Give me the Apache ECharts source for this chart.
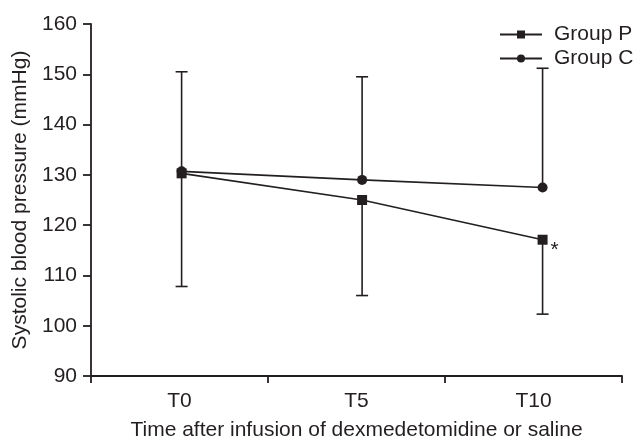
<!DOCTYPE html>
<html>
<head>
<meta charset="utf-8">
<script src="https://cdn.jsdelivr.net/npm/echarts@6/dist/echarts.min.js"></script>
<style>html,body{margin:0;padding:0;background:#fff}#c{width:633px;height:440px}</style>
</head>
<body>
<div id="c"></div>
<script>
// ---- data ----
const categories = ['T0', 'T5', 'T10'];
const times = [0, 5, 10];
const groupP = [130.3, 125.0, 117.1];
const groupC = [130.7, 129.0, 127.5];
const groupPLower = [107.8, 106.0, 102.3];
const groupCUpper = [150.5, 149.5, 151.2];
const yTicks = [90, 100, 110, 120, 130, 140, 150, 160];

const ink = '#231f20';
const font = 'Liberation Sans, Arial, Helvetica, sans-serif';
const fs = 21;

function pairs(vals) { return times.map((t, i) => [t, vals[i]]); }
function errData(means, bounds) { return times.map((t, i) => [t, means[i], bounds[i]]); }

function errRender(params, api) {
  const p0 = api.coord([api.value(0), api.value(1)]);
  const p1 = api.coord([api.value(0), api.value(2)]);
  const half = 6;
  const st = { stroke: ink, lineWidth: 1.6 };
  return {
    type: 'group',
    children: [
      { type: 'line', shape: { x1: p0[0], y1: p0[1], x2: p1[0], y2: p1[1] }, style: st },
      { type: 'line', shape: { x1: p1[0] - half, y1: p1[1], x2: p1[0] + half, y2: p1[1] }, style: st }
    ]
  };
}

const pData = pairs(groupP).map((d, i) => i === times.length - 1 ? {
  value: d,
  label: { show: true, formatter: '*', position: 'right', distance: 6, offset: [-3, 10], fontSize: fs, color: ink, fontFamily: font }
} : d);

const chart = echarts.init(document.getElementById('c'), null, { renderer: 'canvas' });
chart.setOption({
  animation: false,
  backgroundColor: '#fff',
  textStyle: { fontFamily: font, color: ink },
  grid: { left: 91, right: 11, top: 24, bottom: 64, containLabel: false, outerBoundsMode: 'none' },
  legend: {
    orient: 'vertical',
    left: 499,
    top: 24,
    itemWidth: 42,
    itemHeight: 10,
    itemGap: 3,
    padding: 0,
    textStyle: { fontSize: fs, color: ink, fontFamily: font, padding: [0, 0, 0, 7] },
    data: ['Group P', 'Group C']
  },
  xAxis: [
    {
      type: 'category',
      data: categories,
      boundaryGap: true,
      name: 'Time after infusion of dexmedetomidine or saline',
      nameLocation: 'middle',
      nameGap: 44,
      nameTextStyle: { fontSize: fs, color: ink, fontFamily: font },
      axisLine: { lineStyle: { color: ink, width: 1.8 } },
      axisTick: { show: true, length: 7, lineStyle: { color: ink, width: 1.8 } },
      axisLabel: { fontSize: fs, color: ink, margin: 15, fontFamily: font },
      splitLine: { show: false }
    },
    {
      type: 'value',
      show: false,
      min: -2.51,
      max: 12.2,
      splitLine: { show: false }
    }
  ],
  yAxis: {
    type: 'value',
    min: yTicks[0],
    max: yTicks[yTicks.length - 1],
    interval: 10,
    name: 'Systolic blood pressure (mmHg)',
    nameLocation: 'middle',
    nameGap: 56,
    nameTextStyle: { fontSize: fs, color: ink, fontFamily: font },
    axisLine: { show: true, onZero: false, lineStyle: { color: ink, width: 1.8 } },
    axisTick: { show: true, length: 8, lineStyle: { color: ink, width: 1.8 } },
    axisLabel: { fontSize: fs, color: ink, margin: 14, fontFamily: font },
    splitLine: { show: false }
  },
  series: [
    {
      type: 'custom', name: 'errC', xAxisIndex: 1, yAxisIndex: 0, z: 1,
      renderItem: errRender, data: errData(groupC, groupCUpper),
      encode: { x: 0, y: [1, 2] }, silent: true
    },
    {
      type: 'custom', name: 'errP', xAxisIndex: 1, yAxisIndex: 0, z: 1,
      renderItem: errRender, data: errData(groupP, groupPLower),
      encode: { x: 0, y: [1, 2] }, silent: true
    },
    {
      type: 'line', name: 'Group C', xAxisIndex: 1, yAxisIndex: 0, z: 3,
      data: pairs(groupC), symbol: 'circle', symbolSize: 10,
      lineStyle: { color: ink, width: 1.6 }, itemStyle: { color: ink }
    },
    {
      type: 'line', name: 'Group P', xAxisIndex: 1, yAxisIndex: 0, z: 4,
      data: pData, symbol: 'rect', symbolSize: 10,
      lineStyle: { color: ink, width: 1.6 }, itemStyle: { color: ink }
    }
  ]
});
</script>
</body>
</html>
